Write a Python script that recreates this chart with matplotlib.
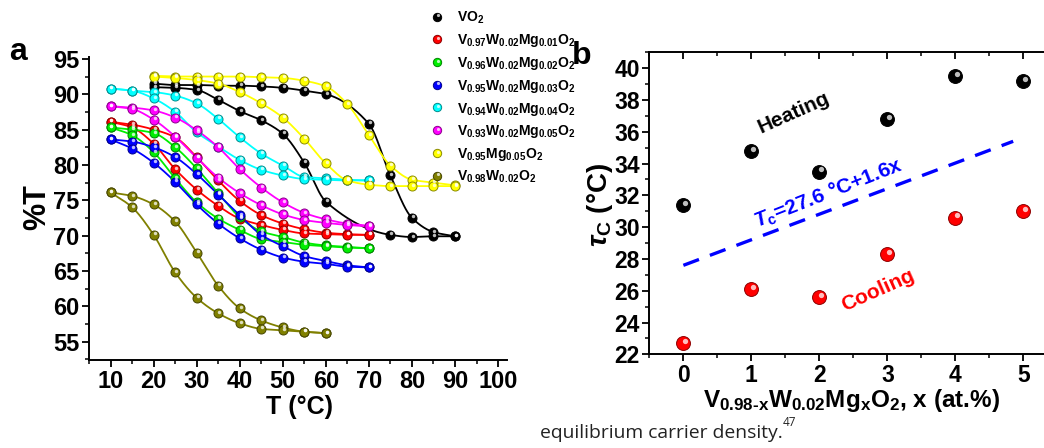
import numpy as np
import matplotlib
matplotlib.use('Agg')
import matplotlib.pyplot as plt
from matplotlib.transforms import offset_copy
from matplotlib.ticker import MultipleLocator
from matplotlib.colors import to_rgb

plt.rcParams['font.family'] = ['Liberation Sans', 'DejaVu Sans']
plt.rcParams['font.weight'] = 'bold'
plt.rcParams['mathtext.fontset'] = 'custom'
plt.rcParams['mathtext.rm'] = 'Liberation Sans:bold'
plt.rcParams['mathtext.it'] = 'Liberation Sans:italic:bold'
plt.rcParams['mathtext.bf'] = 'Liberation Sans:bold'
plt.rcParams['mathtext.default'] = 'bf'

# ---------------- data: panel a ----------------
t_vo2_heat = [20, 25, 30, 35, 40, 45, 50, 55, 60, 70, 75, 80, 85, 90]
vo2_heat = [91.5, 91.3, 91.3, 91.2, 91.2, 91.1, 90.9, 90.5, 90.0, 85.8, 78.5, 72.5, 70.5, 69.9]
t_vo2_cool = [20, 25, 30, 35, 40, 45, 50, 55, 60, 75, 80, 85, 90]
vo2_cool = [91.0, 90.9, 90.6, 89.2, 87.6, 86.3, 84.4, 80.3, 74.8, 70.1, 69.8, 69.9, 69.9]

t_wmg = [10, 15, 20, 25, 30, 35, 40, 45, 50, 55, 60, 65, 70]
mg01_heat = [86.1, 85.7, 85.0, 83.9, 81.1, 77.8, 74.9, 72.9, 71.7, 70.9, 70.4, 70.2, 70.1]
mg01_cool = [86.1, 85.3, 83.0, 79.4, 76.5, 74.2, 72.4, 71.5, 70.8, 70.3, 70.2, 70.1, 70.1]
mg02_heat = [85.3, 85.0, 84.5, 82.5, 79.5, 76.0, 72.6, 70.6, 69.8, 69.0, 68.6, 68.4, 68.2]
mg02_cool = [85.3, 84.2, 81.8, 78.1, 74.7, 72.4, 70.8, 69.5, 69.1, 68.7, 68.5, 68.3, 68.2]
mg03_heat = [83.6, 83.3, 82.5, 81.1, 78.7, 75.8, 72.9, 70.1, 68.5, 67.1, 66.4, 65.8, 65.5]
mg03_cool = [83.6, 82.3, 80.3, 77.6, 74.4, 71.7, 69.6, 68.0, 66.9, 66.3, 66.0, 65.6, 65.5]
mg04_heat = [90.8, 90.5, 90.3, 89.8, 88.7, 86.5, 83.9, 81.6, 79.9, 78.3, 78.1, 77.9, 77.8]
mg04_cool = [90.8, 90.5, 89.4, 87.5, 84.6, 82.6, 80.7, 79.3, 78.5, 78.0, 77.9, 77.8, 77.8]
mg05_heat = [88.3, 88.1, 87.7, 86.7, 84.9, 82.5, 79.4, 76.8, 74.7, 73.2, 72.3, 71.7, 71.4]
mg05_cool = [88.3, 87.9, 86.4, 84.0, 81.0, 78.2, 76.0, 74.3, 73.0, 72.2, 71.8, 71.5, 71.3]

t_mg = [20, 25, 30, 35, 40, 45, 50, 55, 60, 65, 70, 75, 80, 85, 90]
vmg_heat = [92.6, 92.5, 92.5, 92.5, 92.5, 92.4, 92.3, 91.9, 91.1, 88.6, 84.2, 79.9, 77.9, 77.5, 77.1]
vmg_cool = [92.5, 92.3, 92.0, 91.5, 90.3, 88.7, 86.7, 83.7, 80.2, 77.8, 77.2, 77.0, 77.0, 77.0, 77.0]

t_w = [10, 15, 20, 25, 30, 35, 40, 45, 50, 55, 60]
vw_heat = [76.1, 75.6, 74.4, 72.0, 67.6, 62.9, 59.7, 58.0, 57.0, 56.4, 56.2]
vw_cool = [76.1, 74.0, 70.1, 64.8, 61.2, 59.0, 57.6, 56.8, 56.6, 56.4, 56.2]

sample_labels = [r'$VO_2$',
                 r'$V_{0.97}W_{0.02}Mg_{0.01}O_2$',
                 r'$V_{0.96}W_{0.02}Mg_{0.02}O_2$',
                 r'$V_{0.95}W_{0.02}Mg_{0.03}O_2$',
                 r'$V_{0.94}W_{0.02}Mg_{0.04}O_2$',
                 r'$V_{0.93}W_{0.02}Mg_{0.05}O_2$',
                 r'$V_{0.95}Mg_{0.05}O_2$',
                 r'$V_{0.98}W_{0.02}O_2$']
sample_colors = ['#000000', '#ff0000', '#00ee00', '#0000ff', '#00ffff',
                 '#ff00ff', '#ffff00', '#808000']

series = [
    [(t_vo2_heat, vo2_heat), (t_vo2_cool, vo2_cool)],
    [(t_wmg, mg01_heat), (t_wmg, mg01_cool)],
    [(t_wmg, mg02_heat), (t_wmg, mg02_cool)],
    [(t_wmg, mg03_heat), (t_wmg, mg03_cool)],
    [(t_wmg, mg04_heat), (t_wmg, mg04_cool)],
    [(t_wmg, mg05_heat), (t_wmg, mg05_cool)],
    [(t_mg, vmg_heat), (t_mg, vmg_cool)],
    [(t_w, vw_heat), (t_w, vw_cool)],
]

# ---------------- data: panel b ----------------
mg_x = [0, 1, 2, 3, 4, 5]
tc_heating = [31.4, 34.8, 33.5, 36.8, 39.5, 39.2]
tc_cooling = [22.7, 26.1, 25.6, 28.3, 30.6, 31.0]
fit_x = [0, 4.85]
fit_y = [27.6, 35.4]


def pchip(x, y, xn):
    x = np.asarray(x, float); y = np.asarray(y, float)
    h = np.diff(x); d = np.diff(y) / h
    n = len(x); m = np.zeros(n)
    for k in range(1, n - 1):
        if d[k - 1] * d[k] > 0:
            w1 = 2 * h[k] + h[k - 1]; w2 = h[k] + 2 * h[k - 1]
            m[k] = (w1 + w2) / (w1 / d[k - 1] + w2 / d[k])
    m[0] = d[0]; m[-1] = d[-1]
    idx = np.clip(np.searchsorted(x, xn) - 1, 0, n - 2)
    t = (xn - x[idx]) / h[idx]
    h00 = 2 * t**3 - 3 * t**2 + 1; h10 = t**3 - 2 * t**2 + t
    h01 = -2 * t**3 + 3 * t**2; h11 = t**3 - t**2
    return h00 * y[idx] + h10 * h[idx] * m[idx] + h01 * y[idx + 1] + h11 * h[idx] * m[idx + 1]


fig = plt.figure(figsize=(10.44, 4.48), dpi=100)


def balls(ax, x, y, color, ms, z, trans=None):
    base = ax.transData if trans is None else trans
    dark = tuple(np.array(to_rgb(color)) * 0.55)
    ax.plot(x, y, ls='none', marker='o', ms=ms, mfc=color, mec=dark, mew=0.7,
            zorder=z, transform=base, clip_on=False)
    hl = offset_copy(base, fig=fig, x=ms * 0.1, y=ms * 0.16, units='points')
    ax.plot(x, y, ls='none', marker='o', ms=ms * 0.38, mfc='white', mec='none',
            alpha=0.75, zorder=z + 0.1, transform=hl, clip_on=False)


# ---------------- panel a ----------------
axa = fig.add_axes([0.0853, 0.1964, 0.400, 0.677])
for i, (branches, col) in enumerate(zip(series, sample_colors)):
    for (tt, vv) in branches:
        xs = np.linspace(tt[0], tt[-1], 300)
        axa.plot(xs, pchip(tt, vv, xs), color=col, lw=1.3, zorder=2 + i * 0.01)
        balls(axa, tt, vv, col, 6.5, 3 + i * 0.01)

axa.set_xlim(5, 102)
axa.set_ylim(52.4, 95.3)
axa.xaxis.set_major_locator(MultipleLocator(10))
axa.xaxis.set_minor_locator(MultipleLocator(5))
axa.yaxis.set_major_locator(MultipleLocator(5))
axa.yaxis.set_minor_locator(MultipleLocator(2.5))
axa.set_xticks(np.arange(10, 101, 10))
for s in ['top', 'right']:
    axa.spines[s].set_visible(False)
for s in ['left', 'bottom']:
    axa.spines[s].set_linewidth(1.4)
axa.tick_params(which='major', direction='out', length=5, width=1.3, labelsize=17, pad=2)
axa.tick_params(which='minor', direction='out', length=3, width=1.1)
for lab in axa.get_xticklabels() + axa.get_yticklabels():
    lab.set_fontweight('bold')

# ---------------- panel b ----------------
axb = fig.add_axes([0.622, 0.209, 0.3908, 0.6743])
axb.plot(fit_x, fit_y, color='#0000ff', lw=2.4, dashes=(5, 3.5), zorder=2)
balls(axb, mg_x, tc_heating, '#000000', 10, 3)
balls(axb, mg_x, tc_cooling, '#ff0000', 10, 3)
axb.set_xlim(-0.5, 5.5)
axb.set_ylim(22, 41)
axb.xaxis.set_major_locator(MultipleLocator(1))
axb.xaxis.set_minor_locator(MultipleLocator(0.5))
axb.yaxis.set_major_locator(MultipleLocator(2))
axb.yaxis.set_minor_locator(MultipleLocator(1))
for s in axb.spines.values():
    s.set_linewidth(1.4)
axb.tick_params(which='major', direction='out', length=5, width=1.3, labelsize=16.5, pad=2)
axb.tick_params(which='minor', direction='out', length=3, width=1.1)
axb.tick_params(which='both', top=True, labeltop=False)
for t in axb.xaxis.get_major_ticks() + axb.xaxis.get_minor_ticks():
    t.tick2line.set_marker(3)
for lab in axb.get_xticklabels() + axb.get_yticklabels():
    lab.set_fontweight('bold')

axb.text(1.63, 37.2, 'Heating', rotation=24, fontsize=15, fontweight='bold',
         ha='center', va='center', color='black')
axb.text(2.86, 26.0, 'Cooling', rotation=24, fontsize=15, fontweight='bold',
         ha='center', va='center', color='#ff0000')
axb.text(2.13, 32.1, r'$\mathit{T}_{c}$=27.6 °C+1.6x', rotation=21.5, fontsize=15,
         fontweight='bold', ha='center', va='center', color='#0000ff')

# ---------------- overlay (labels, legend) ----------------
ov = fig.add_axes([0, 0, 1, 1], zorder=10)
ov.set_xlim(0, 1044); ov.set_ylim(448, 0)
ov.axis('off'); ov.patch.set_alpha(0)

ov.text(18, 52, 'a', fontsize=23, fontweight='bold', ha='center', va='center')
ov.text(582, 56, 'b', fontsize=23, fontweight='bold', ha='center', va='center')
ov.text(37, 207, '%T', fontsize=22, fontweight='bold', rotation=90, ha='center', va='center')
ov.text(300, 407, 'T (°C)', fontsize=18, fontweight='bold', ha='center', va='center')
ov.text(600, 205, r'$\mathit{\tau}_{C}$ (°C)', fontsize=20, fontweight='bold', rotation=90,
        ha='center', va='center')
ov.text(852, 401, r'$V_{0.98\text{-}x}W_{0.02}Mg_{x}O_{2}$, x (at.%)', fontsize=17.5,
        fontweight='bold', ha='center', va='center')

leg_y0, leg_dy = 16.7, 22.7
for i, (lab, col) in enumerate(zip(sample_labels, sample_colors)):
    yy = leg_y0 + i * leg_dy
    balls(ov, [436.7], [yy], col, 6.0, 11)
    ov.text(457, yy + 1.5, lab, fontsize=10, fontweight='bold', ha='left', va='center')

cap = ov.text(540, 433, 'equilibrium carrier density.', fontsize=13.9, fontweight='normal',
              family='Open Sans', color='#222222', ha='left', va='center')
ov.annotate('47', xy=(1, 0.72), xycoords=cap, fontsize=8.5, fontweight='normal',
            family='Open Sans', color='#222222', ha='left', va='bottom')

fig.savefig('out.png', dpi=100)
